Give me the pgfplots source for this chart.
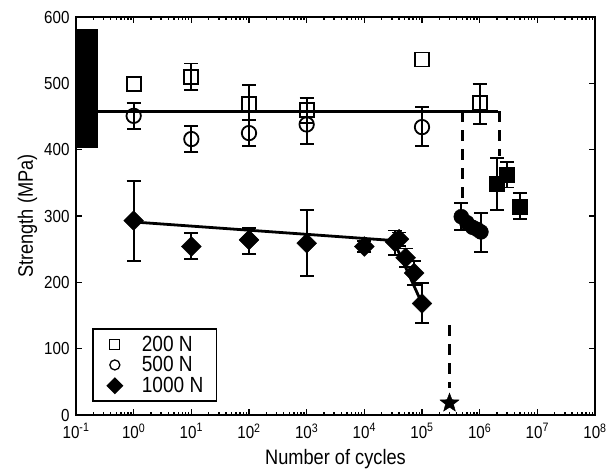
\documentclass[border=0pt]{standalone}
\usepackage{pgfplots}
\pgfplotsset{compat=1.18}
\usepackage{pgfplotstable}
\usepackage{fontspec}
\setmainfont[FakeStretch=0.87]{Liberation Sans}

% filled five-point star mark
\pgfdeclareplotmark{fstar}{%
  \pgfpathmoveto{\pgfpointpolar{90}{\pgfplotmarksize}}%
  \pgfpathlineto{\pgfpointpolar{126}{0.42\pgfplotmarksize}}%
  \pgfpathlineto{\pgfpointpolar{162}{\pgfplotmarksize}}%
  \pgfpathlineto{\pgfpointpolar{198}{0.42\pgfplotmarksize}}%
  \pgfpathlineto{\pgfpointpolar{234}{\pgfplotmarksize}}%
  \pgfpathlineto{\pgfpointpolar{270}{0.42\pgfplotmarksize}}%
  \pgfpathlineto{\pgfpointpolar{306}{\pgfplotmarksize}}%
  \pgfpathlineto{\pgfpointpolar{342}{0.42\pgfplotmarksize}}%
  \pgfpathlineto{\pgfpointpolar{18}{\pgfplotmarksize}}%
  \pgfpathlineto{\pgfpointpolar{54}{0.42\pgfplotmarksize}}%
  \pgfpathclose\pgfusepathqfillstroke}

% 200 N, open squares
\pgfplotstableread{
x y ep em
10 510 20 20
100 469 29 24
1000 460 18 20
1e6 470 29 31
}\sqdata
% 500 N, open circles
\pgfplotstableread{
x y ep em
1 451 19 20
10 416 20 20
100 425 20 20
1000 438 32 29
1e5 434 30 29
}\cidata
% 1000 N, diamonds
\pgfplotstableread{
x y ep em
1 293 60 61
10 254 20 19
100 264 18 21
1000 259 50 49
1e4 254 8 8
3.4e4 261 17 20
4e4 265 10 10
5.2e4 237 14 14
7.3e4 214 18 18
1e5 168 31 29
}\didata
% filled circles
\pgfplotstableread{
x y ep em
4.8e5 299 20 20
1.05e6 276 29 30
}\fcdata
% filled squares
\pgfplotstableread{
x y ep em
2e6 349 39 40
2.95e6 363 19 20
5e6 314 21 19
}\fsdata

\begin{document}
\begin{tikzpicture}
\useasboundingbox (-76bp,-61bp) rectangle (531bp,415bp);
\begin{axis}[
  at={(0,0)}, anchor=south west,
  scale only axis, width=519bp, height=398bp,
  xmode=log, xmin=0.1, xmax=1e8, ymin=0, ymax=600,
  ytick={0,100,...,600},
  xtick={0.1,1,10,100,1000,1e4,1e5,1e6,1e7,1e8},
  xticklabels={10\textsuperscript{-1},10\textsuperscript{0},10\textsuperscript{1},10\textsuperscript{2},10\textsuperscript{3},10\textsuperscript{4},10\textsuperscript{5},10\textsuperscript{6},10\textsuperscript{7},10\textsuperscript{8}},
  minor xtick={0.2,0.3,0.4,0.5,0.6,0.7,0.8,0.9,2,3,4,5,6,7,8,9,20,30,40,50,60,70,80,90,200,300,400,500,600,700,800,900,2e3,3e3,4e3,5e3,6e3,7e3,8e3,9e3,2e4,3e4,4e4,5e4,6e4,7e4,8e4,9e4,2e5,3e5,4e5,5e5,6e5,7e5,8e5,9e5,2e6,3e6,4e6,5e6,6e6,7e6,8e6,9e6,2e7,3e7,4e7,5e7,6e7,7e7,8e7,9e7},
  minor y tick num=0,
  tick align=inside, major tick length=6bp, minor tick length=3.5bp,
  every tick/.style={black, line width=1.5bp},
  axis line style={line width=2bp},
  /pgf/number format/assume math mode=true,
  tick label style={font=\fontsize{17.5}{20}\selectfont},
  xticklabel style={yshift=-5bp},
  yticklabel style={xshift=-3bp},
  label style={font=\fontsize{21}{24}\selectfont},
  xlabel={Number of cycles}, ylabel={Strength (MPa)},
  xlabel style={yshift=-4bp},
  error bars/error bar style={line width=1.8bp, black},
  error bars/error mark options={rotate=90, line width=1.8bp, black, mark size=7bp},
  legend style={at={(0.031,0.033)}, anchor=south west, draw=black, line width=1.5bp,
    font=\fontsize{22}{25}\selectfont, cells={anchor=west}, row sep=0bp,
    inner xsep=11bp, inner ysep=5bp},
  legend image code/.code={\draw[#1] plot coordinates {(11bp,0bp)};
    \path[draw=none, fill=none] (0bp,-1bp) rectangle (36bp,1bp);},
]
% block at the left edge
\addplot[fill=black, draw=black, forget plot] coordinates {(0.1,403) (0.232,403) (0.232,581) (0.1,581)} -- cycle;
% fitted lines
\addplot[black, line width=3.3bp, forget plot] coordinates {(0.237,458) (2.07e6,458)};
\addplot[black, line width=2.8bp, forget plot] coordinates {(1,291) (3.2e4,263) (1e5,168)};
% dashed drops
\addplot[black, line width=3bp, dash pattern=on 11bp off 8bp, forget plot] coordinates {(5.1e5,458) (5.1e5,318)};
\addplot[black, line width=3bp, dash pattern=on 11bp off 8bp, forget plot] coordinates {(2.2e6,458) (2.2e6,390)};
\addplot[black, line width=3bp, dash pattern=on 11bp off 8bp, forget plot] coordinates {(3e5,135) (3e5,40)};

% 1000 N
\addplot[only marks, mark=square*, mark size=7bp, mark options={rotate=45, fill=black}, forget plot,
  error bars/.cd, y dir=both, y explicit]
  table[x=x, y=y, y error plus=ep, y error minus=em] {\didata};
% 500 N
\addplot[only marks, mark=o, mark size=7.2bp, mark options={fill=white, line width=1.8bp}, forget plot,
  error bars/.cd, y dir=both, y explicit]
  table[x=x, y=y, y error plus=ep, y error minus=em] {\cidata};
% 200 N
\addplot[only marks, mark=square, mark size=7bp, mark options={fill=white, line width=1.8bp}, forget plot,
  error bars/.cd, y dir=both, y explicit]
  table[x=x, y=y, y error plus=ep, y error minus=em] {\sqdata};
\addplot[only marks, mark=square, mark size=7bp, mark options={fill=white, line width=1.8bp}, forget plot]
  coordinates {(1,499) (1e5,536)};
% filled circles
\addplot[only marks, mark=*, mark size=7.5bp, mark options={fill=black}, forget plot]
  coordinates {(6e5,290) (7.5e5,283) (9e5,280)};
\addplot[only marks, mark=*, mark size=7.5bp, mark options={fill=black}, forget plot,
  error bars/.cd, y dir=both, y explicit]
  table[x=x, y=y, y error plus=ep, y error minus=em] {\fcdata};
% filled squares
\addplot[only marks, mark=square*, mark size=7.5bp, mark options={fill=black}, forget plot,
  error bars/.cd, y dir=both, y explicit]
  table[x=x, y=y, y error plus=ep, y error minus=em] {\fsdata};
% star
\addplot[only marks, mark=fstar, mark size=10bp, mark options={fill=black}, forget plot]
  coordinates {(3e5,18)};

\addlegendimage{only marks, mark=square, mark size=5bp, mark options={line width=1.3bp}}
\addlegendentry{200 N}
\addlegendimage{only marks, mark=o, mark size=5bp, mark options={line width=1.3bp}}
\addlegendentry{500 N}
\addlegendimage{only marks, mark=square*, mark size=5.3bp, mark options={rotate=45}}
\addlegendentry{1000 N}
\end{axis}
\end{tikzpicture}
\end{document}
